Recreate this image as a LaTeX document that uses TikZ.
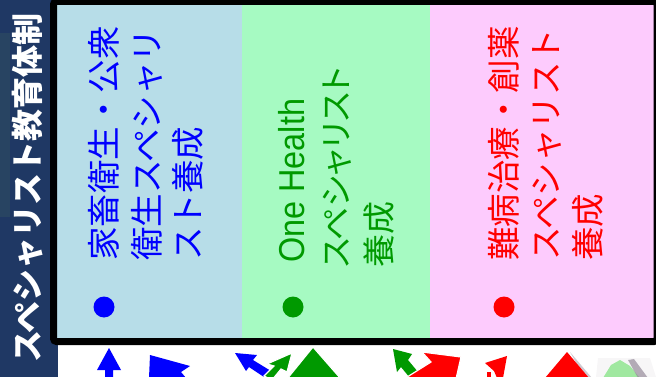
\documentclass[tikz,border=0pt]{standalone}
\usepackage{fontspec}
\setmainfont{Noto Sans CJK JP}
\newfontfamily\jpp[RawFeature=+palt]{Noto Sans CJK JP}
\newfontfamily\narrowsans[FakeStretch=0.9]{Liberation Sans}
\definecolor{navy}{RGB}{31,56,100}
\definecolor{navylight}{RGB}{40,68,98}
\definecolor{cblue}{RGB}{183,221,232}
\definecolor{cgreen}{RGB}{166,250,194}
\definecolor{cpink}{RGB}{253,203,253}
\definecolor{tblue}{RGB}{0,0,255}
\definecolor{tgreen}{RGB}{0,153,0}
\definecolor{tred}{RGB}{255,0,0}
\definecolor{blobgreen}{RGB}{160,232,160}
\definecolor{blobgray}{RGB}{150,140,155}
\tikzset{
  vtext/.style={rotate=90, anchor=west, inner sep=0pt, font=\fontsize{33.5}{40}\selectfont},
  bulletdot/.style={circle, inner sep=0pt, minimum size=21pt},
  frag/.style={draw=white, line width=1.2pt, line join=miter},
}
\begin{document}
\begin{tikzpicture}[x=1pt,y=-1pt]
\useasboundingbox (0,0) rectangle (656,377);
\begin{scope}
\clip (0,0) rectangle (656,377);
% left navy bar
\fill[navy] (0,0) rectangle (58,377);
\fill[navylight] (0,33) rectangle (10,217);
\node[vtext, text=white, font=\fontsize{32}{38}\selectfont\bfseries] (title) at (28,363) {スペシャリスト教育体制};
% columns
\fill[cblue] (53.5,1.5) rectangle (242,341.5);
\fill[cgreen] (242,1.5) rectangle (430,341.5);
\fill[cpink] (430,1.5) rectangle (657,341.5);
\draw[line width=7pt, rounded corners=3pt] (53.5,1.5) rectangle (657,341.5);
% blue column
\node[vtext, text=tblue] (b1) at (103.5,261) {家畜衛生・公衆};
\node[vtext, text=tblue] (b2) at (147,261) {衛生スペシャリ};
\node[vtext, text=tblue] (b3) at (188,261) {スト養成};
\node[bulletdot, fill=tblue] (bd) at (104,307) {};
% green column
\node[vtext, text=tgreen, font=\fontsize{36}{40}\selectfont\narrowsans] (g1) at (292,263) {One Health};
\node[vtext, text=tgreen, font=\fontsize{33}{40}\selectfont\jpp] (g2) at (337,268) {スペシャリスト};
\node[vtext, text=tgreen, font=\fontsize{33}{40}\selectfont\jpp] (g3) at (379,268) {養成};
\node[bulletdot, fill=tgreen] (gd) at (293,307) {};
% red column
\node[vtext, text=tred] (r1) at (504,261) {難病治療・創薬};
\node[vtext, text=tred] (r2) at (547,261) {スペシャリスト};
\node[vtext, text=tred] (r3) at (588,261) {養成};
\node[bulletdot, fill=tred] (rd) at (504,307) {};
% cut-off fragments below the box
\fill[tblue] (109,348) -- (121,370) -- (113,370) -- (113,378) -- (105,378) -- (105,370) -- (97,370) -- cycle;
\fill[tblue] (149,378) -- (150,355) -- (190,366) -- (181,372) -- (186,378) -- cycle;
\fill[tblue] (235,353) -- (257,355) -- (253,360) -- (271,371) -- (267,379) -- (249,367) -- (246,371) -- cycle;
\filldraw[frag, fill=tgreen] (292,353) -- (287,372) -- (281,369) -- (272,380) -- (264,376) -- (274,366) -- (267,364) -- cycle;
\filldraw[frag, fill=tgreen] (313,347) -- (341,379) -- (287,379) -- cycle;
\fill[tgreen] (393,349) -- (412,354) -- (408,360) -- (418,372) -- (410,378) -- (401,367) -- (397,372) -- cycle;
\filldraw[frag, fill=tred] (422,352) -- (461,357) -- (456,379) -- (404,379) -- (431,362) -- cycle;
\fill[tred] (485,363) -- (507,356) -- (503,378) -- (497,378) -- (494,371) -- cycle;
\fill[tred] (487,372) rectangle (491,378);
\fill[blobgray, opacity=0.45] (570,352) -- (592,378) -- (585,378) -- cycle;
\fill[tred] (567,352) -- (589,378) -- (545,378) -- cycle;
\fill[blobgray!30, opacity=0.25] (598,358) -- (650,358) -- (656,377) -- (596,377) -- cycle;
\fill[blobgreen] (603,378) -- (611,365) -- (620,360) -- (630,366) -- (640,378) -- cycle;
\fill[blobgray, opacity=0.7] (628,360) -- (634,359) -- (648,378) -- (638,378) -- cycle;
\end{scope}
\end{tikzpicture}
\end{document}
